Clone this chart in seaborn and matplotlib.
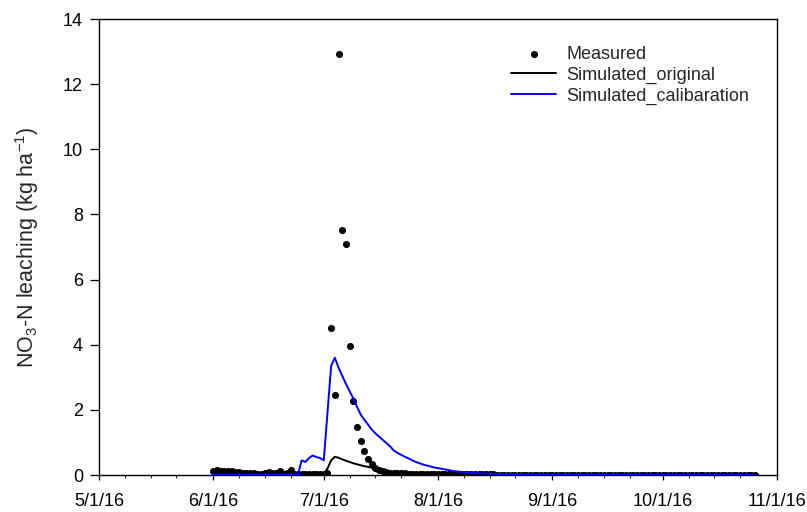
import numpy as np
import pandas as pd
import matplotlib
matplotlib.use("Agg")
import matplotlib.pyplot as plt
import matplotlib.dates as mdates
from matplotlib.ticker import FuncFormatter
import seaborn as sns

start_date = "2016-06-01"
end_date = "2016-10-26"

measured = [
    # June
    0.13, 0.14, 0.13, 0.12, 0.12, 0.11,
    0.09, 0.08, 0.07, 0.06, 0.05, 0.05, 0.04, 0.04,
    0.05, 0.10, 0.05, 0.06, 0.13, 0.04, 0.05, 0.14, 0.03,
    0.02, 0.02, 0.02, 0.02, 0.03, 0.03, 0.04,
    # July
    0.04, 0.05, 4.52, 2.45, 12.93, 7.51, 7.08, 3.96, 2.27, 1.48,
    1.04, 0.74, 0.48, 0.33, 0.22, 0.15, 0.12, 0.09, 0.07, 0.06,
    0.05, 0.05, 0.05, 0.04, 0.04, 0.04, 0.04, 0.03, 0.03, 0.03, 0.03,
    # August
    0.03, 0.03, 0.03, 0.02, 0.02, 0.02, 0.02, 0.02, 0.02, 0.02,
    0.02, 0.02, 0.02, 0.02, 0.02, 0.02, 0.01, 0.01, 0.01, 0.01,
    0.01, 0.01, 0.01, 0.01, 0.01, 0.01, 0.01, 0.01, 0.01, 0.01, 0.01,
    # September
    0.01, 0.01, 0.01, 0.01, 0.01, 0.01, 0.01, 0.01, 0.01, 0.01,
    0.01, 0.01, 0.01, 0.01, 0.01, 0.01, 0.01, 0.01, 0.01, 0.01,
    0.01, 0.01, 0.01, 0.01, 0.01, 0.01, 0.01, 0.01, 0.01, 0.01,
    # October 1-26
    0.01, 0.01, 0.01, 0.01, 0.01, 0.01, 0.01, 0.01, 0.01, 0.01,
    0.01, 0.01, 0.01, 0.01, 0.01, 0.01, 0.01, 0.01, 0.01, 0.01,
    0.01, 0.01, 0.01, 0.01, 0.01, 0.01,
]

simulated_original = [
    # June
    0.0, 0.0, 0.0, 0.0, 0.0, 0.0, 0.0, 0.0, 0.0, 0.0,
    0.0, 0.0, 0.0, 0.0, 0.0, 0.0, 0.0, 0.0, 0.0, 0.0,
    0.0, 0.0, 0.0, 0.0, 0.0, 0.0, 0.0, 0.0, 0.0, 0.0,
    # July
    0.02, 0.20, 0.45, 0.56, 0.53, 0.48, 0.44, 0.40, 0.36, 0.33,
    0.30, 0.27, 0.25, 0.22, 0.15, 0.10, 0.07, 0.06, 0.05, 0.05,
    0.04, 0.04, 0.04, 0.03, 0.03, 0.03, 0.03, 0.03, 0.02, 0.02, 0.02,
    # August
    0.02, 0.02, 0.02, 0.02, 0.02, 0.02, 0.02, 0.02, 0.02, 0.02,
    0.01, 0.01, 0.01, 0.01, 0.01, 0.01, 0.01, 0.01, 0.01, 0.01,
    0.01, 0.01, 0.01, 0.01, 0.01, 0.01, 0.01, 0.01, 0.01, 0.01, 0.01,
    # September
    0.01, 0.01, 0.01, 0.01, 0.01, 0.01, 0.01, 0.01, 0.01, 0.01,
    0.0, 0.0, 0.0, 0.0, 0.0, 0.0, 0.0, 0.0, 0.0, 0.0,
    0.0, 0.0, 0.0, 0.0, 0.0, 0.0, 0.0, 0.0, 0.0, 0.0,
    # October 1-26
    0.0, 0.0, 0.0, 0.0, 0.0, 0.0, 0.0, 0.0, 0.0, 0.0,
    0.0, 0.0, 0.0, 0.0, 0.0, 0.0, 0.0, 0.0, 0.0, 0.0,
    0.0, 0.0, 0.0, 0.0, 0.0, 0.0,
]

simulated_calibration = [
    # June
    0.01, 0.01, 0.01, 0.01, 0.01, 0.01, 0.01, 0.01, 0.01, 0.01,
    0.01, 0.01, 0.01, 0.01, 0.01, 0.01, 0.01, 0.01, 0.01, 0.01,
    0.01, 0.01, 0.01, 0.01, 0.45, 0.40, 0.52, 0.60, 0.55, 0.52,
    # July
    0.45, 1.90, 3.35, 3.60, 3.30, 3.05, 2.80, 2.58, 2.35, 2.10,
    1.86, 1.70, 1.55, 1.40, 1.28, 1.18, 1.08, 0.98, 0.88, 0.75,
    0.68, 0.62, 0.56, 0.51, 0.45, 0.40, 0.36, 0.32, 0.29, 0.26, 0.23,
    # August
    0.21, 0.19, 0.17, 0.15, 0.12, 0.11, 0.10, 0.09, 0.08, 0.07,
    0.06, 0.05, 0.05, 0.04, 0.04, 0.04, 0.03, 0.03, 0.03, 0.03,
    0.03, 0.02, 0.02, 0.02, 0.02, 0.02, 0.02, 0.02, 0.02, 0.02, 0.02,
    # September
    0.02, 0.02, 0.02, 0.02, 0.02, 0.02, 0.02, 0.02, 0.02, 0.02,
    0.02, 0.02, 0.02, 0.02, 0.02, 0.02, 0.02, 0.02, 0.02, 0.02,
    0.02, 0.02, 0.02, 0.02, 0.01, 0.01, 0.01, 0.01, 0.01, 0.01,
    # October 1-26
    0.01, 0.01, 0.01, 0.01, 0.01, 0.01, 0.01, 0.01, 0.01, 0.01,
    0.01, 0.01, 0.01, 0.01, 0.01, 0.01, 0.01, 0.01, 0.01, 0.01,
    0.01, 0.01, 0.01, 0.01, 0.01, 0.01,
]

dates = pd.date_range(start_date, end_date, freq="D")
df = pd.DataFrame({
    "date": dates,
    "Measured": measured,
    "Simulated_original": simulated_original,
    "Simulated_calibaration": simulated_calibration,
})

sns.set_style("ticks")
plt.rcParams["font.family"] = ["Liberation Sans", "DejaVu Sans"]
plt.rcParams["mathtext.default"] = "regular"

fig = plt.figure(figsize=(8.07, 5.12), dpi=100)
ax = fig.add_axes([99 / 807, 1 - 475 / 512, 678 / 807, 456 / 512])

sns.scatterplot(data=df, x="date", y="Measured", ax=ax, color="black",
                s=26, edgecolor="black", linewidth=0, label="Measured", zorder=3)
sns.lineplot(data=df, x="date", y="Simulated_original", ax=ax, color="black",
             linewidth=1.4, label="Simulated_original", zorder=4)
sns.lineplot(data=df, x="date", y="Simulated_calibaration", ax=ax, color="#0000ff",
             linewidth=1.4, label="Simulated_calibaration", zorder=5)

ax.set_xlim(pd.Timestamp("2016-05-01"), pd.Timestamp("2016-11-01"))
ax.set_ylim(0, 14)
ax.set_yticks(np.arange(0, 15, 2))
ax.xaxis.set_major_locator(mdates.MonthLocator(bymonthday=1))
ax.xaxis.set_minor_locator(mdates.DayLocator(bymonthday=[8, 15, 22]))
ax.xaxis.set_major_formatter(FuncFormatter(
    lambda v, p: (lambda d: f"{d.month}/{d.day}/{d.year % 100}")(mdates.num2date(v))))

ax.set_xlabel("")
ax.set_ylabel("NO$_3$-N leaching (kg ha$^{-1}$)", fontsize=15.5, labelpad=16)
ax.tick_params(axis="both", which="major", labelsize=13, colors="black")
ax.tick_params(axis="y", which="major", direction="out", length=6.5, width=0.9, pad=5)
ax.tick_params(axis="x", which="major", direction="out", length=3.3, width=0.9, pad=10)
ax.tick_params(axis="x", which="minor", direction="out", length=2.3, width=0.8)
for s in ax.spines.values():
    s.set_visible(True)
    s.set_color("black")
    s.set_linewidth(1.0)

leg = ax.legend(loc="upper left", bbox_to_anchor=(0.608, 0.941), frameon=False,
                fontsize=13, handlelength=2.5, handletextpad=0.55,
                labelspacing=0.2, borderpad=0, borderaxespad=0)

fig.savefig("out.png", dpi=100)
